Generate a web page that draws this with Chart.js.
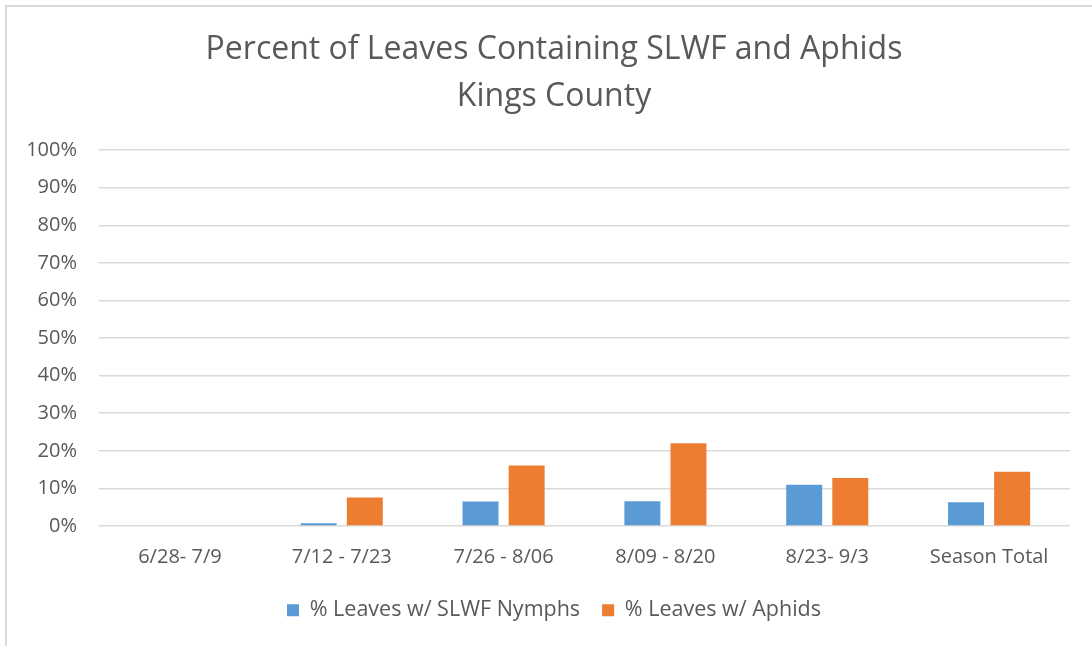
<!DOCTYPE html>
<html>
<head>
<meta charset="utf-8">
<script src="https://cdn.jsdelivr.net/npm/chart.js@4"></script>
<style>
  html, body { margin: 0; padding: 0; background: #fff; }
  #wrap { position: relative; width: 1092px; height: 646px; overflow: hidden; }
  #frame { position: absolute; left: 5px; top: 5px; width: 1200px; height: 700px;
           border-top: 2px solid #d9d9d9; border-left: 2px solid #d9d9d9; box-sizing: border-box; }
  canvas { position: absolute; left: 0; top: 0; }
</style>
</head>
<body>
<div id="wrap">
  <div id="frame"></div>
  <canvas id="grafico" width="1092" height="646"></canvas>
</div>
<script>
// datos
const categorias = ['6/28- 7/9', '7/12 - 7/23', '7/26 - 8/06', '8/09 - 8/20', '8/23- 9/3', 'Season Total'];
const ninfasSLWF = [null, 0.7, 6.5, 6.6, 11.0, 6.3];
const afidos = [null, 7.6, 16.1, 22.0, 12.8, 14.4];
const ticksY = [0, 10, 20, 30, 40, 50, 60, 70, 80, 90, 100];

const gris = '#595959';
const fuente = '"Open Sans", sans-serif';

// corre un poco a la derecha el titulo y la leyenda, como en el original
const correrCentro = {
    id: 'correrCentro',
    afterLayout(chart) {
        if (chart.titleBlock) chart.titleBlock.left += 18;
        if (chart.legend) {
            chart.legend.left += 18;
            chart.legend.adjustHitBoxes();
        }
    }
};

const ctx = document.getElementById('grafico').getContext('2d');

new Chart(ctx, {
    type: 'bar',
    data: {
        labels: categorias,
        datasets: [{
            label: '% Leaves w/ SLWF Nymphs',
            data: ninfasSLWF,
            backgroundColor: '#5B9BD5',
            categoryPercentage: 0.57,
            barPercentage: 0.78
        }, {
            label: '% Leaves w/ Aphids',
            data: afidos,
            backgroundColor: '#ED7D31',
            categoryPercentage: 0.57,
            barPercentage: 0.78
        }]
    },
    options: {
        responsive: false,
        animation: false,
        layout: { padding: { left: 20, right: 22, top: 26, bottom: 15 } },
        scales: {
            x: {
                afterFit: function(scale) { scale.height = 51.5; },
                grid: { display: false },
                border: { display: false },
                ticks: { color: gris, font: { family: fuente, size: 20 }, padding: 11.5 }
            },
            y: {
                min: 0,
                max: 100,
                afterFit: function(scale) { scale.width = 79; },
                afterBuildTicks: function(scale) { scale.ticks = ticksY.map(v => ({ value: v })); },
                grid: { color: '#d9d9d9', lineWidth: 1.5, drawTicks: false },
                border: { display: false },
                ticks: {
                    color: gris,
                    font: { family: fuente, size: 20 },
                    padding: 22,
                    callback: v => v + '%'
                }
            }
        },
        plugins: {
            title: {
                display: true,
                text: ['Percent of Leaves Containing SLWF and Aphids', 'Kings County'],
                color: gris,
                font: { family: fuente, size: 32, weight: '400', lineHeight: 1.47 },
                padding: { top: 0, bottom: 30 }
            },
            legend: {
                position: 'bottom',
                labels: {
                    color: gris,
                    font: { family: fuente, size: 21.5 },
                    boxWidth: 12,
                    boxHeight: 12,
                    padding: 22
                }
            },
            tooltip: { enabled: false }
        }
    },
    plugins: [correrCentro]
});
</script>
</body>
</html>
